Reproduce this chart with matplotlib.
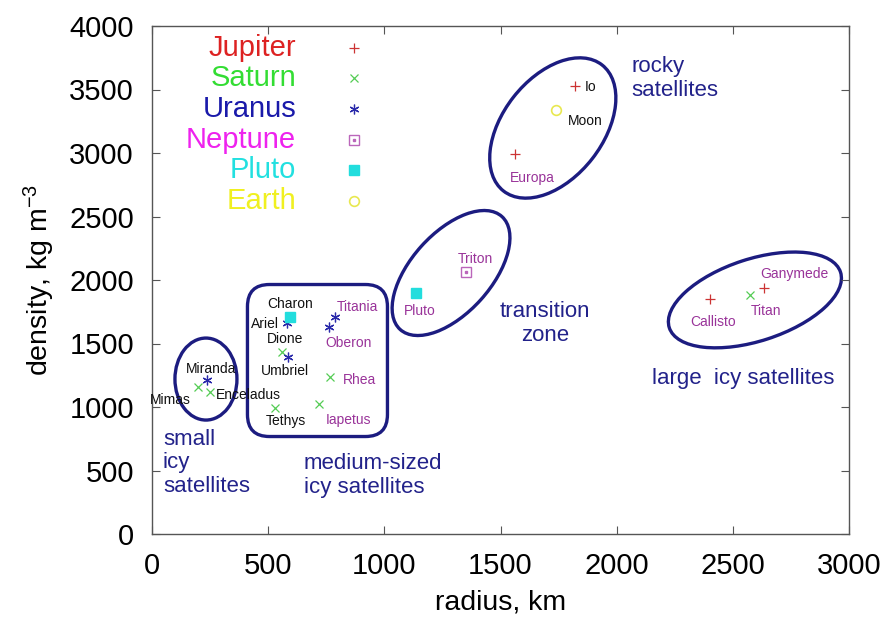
import matplotlib
matplotlib.use("Agg")
import matplotlib.pyplot as plt
from matplotlib.patches import Ellipse, FancyBboxPatch
from matplotlib.transforms import ScaledTranslation

plt.rcParams['font.family'] = ['Liberation Sans', 'DejaVu Sans']
plt.rcParams['mathtext.default'] = 'regular'

# radius (km), density (kg m^-3) per planet family
jupiter_names = ['Io', 'Europa', 'Ganymede', 'Callisto']
jupiter_r = [1821, 1561, 2634, 2403]
jupiter_rho = [3528, 2990, 1936, 1851]

saturn_names = ['Mimas', 'Enceladus', 'Tethys', 'Dione', 'Rhea', 'Iapetus', 'Titan']
saturn_r = [199, 249, 530, 560, 764, 718, 2575]
saturn_rho = [1160, 1120, 990, 1430, 1233, 1020, 1880]

uranus_names = ['Miranda', 'Ariel', 'Umbriel', 'Titania', 'Oberon']
uranus_r = [236, 579, 585, 789, 761]
uranus_rho = [1210, 1660, 1390, 1710, 1630]

neptune_names = ['Triton']
neptune_r = [1353]
neptune_rho = [2060]

pluto_names = ['Pluto', 'Charon']
pluto_r = [1137, 593]
pluto_rho = [1900, 1710]

earth_names = ['Moon']
earth_r = [1737]
earth_rho = [3340]

legend_names = ['Jupiter', 'Saturn', 'Uranus', 'Neptune', 'Pluto', 'Earth']

# label colour / offset (pixels) for each moon name
dark = '#111111'
purple = '#993399'
label_style = {
    'Io': (dark, 10, -1, 'left'),
    'Moon': (dark, 30, -11, 'center'),
    'Europa': (purple, 18, -24, 'center'),
    'Charon': (dark, 0, 13, 'center'),
    'Ariel': (dark, -22, -1, 'center'),
    'Dione': (dark, 3, 13, 'center'),
    'Umbriel': (dark, -3, -14, 'center'),
    'Miranda': (dark, 4, 11, 'center'),
    'Mimas': (dark, -28, -13, 'center'),
    'Enceladus': (dark, 38, -3, 'center'),
    'Tethys': (dark, 11, -13, 'center'),
    'Titania': (purple, 22, 10, 'center'),
    'Oberon': (purple, 20, -16, 'center'),
    'Rhea': (purple, 30, -3, 'center'),
    'Iapetus': (purple, 30, -16, 'center'),
    'Triton': (purple, 9, 13, 'center'),
    'Pluto': (purple, 4, -18, 'center'),
    'Ganymede': (purple, 30, 14, 'center'),
    'Callisto': (purple, 3, -23, 'center'),
    'Titan': (purple, 16, -16, 'center'),
}

fig = plt.figure(figsize=(8.84, 6.25), dpi=100)
ax = fig.add_axes([0.172, 0.1456, 0.7884, 0.8128])

series = [
    (jupiter_names, jupiter_r, jupiter_rho, dict(marker='+', color='#cc3333', ms=7, mew=0.9, ls='none')),
    (saturn_names, saturn_r, saturn_rho, dict(marker='x', color='#55cc55', ms=6, mew=0.9, ls='none')),
    (uranus_names, uranus_r, uranus_rho, dict(marker=(6, 2, 0), color='#2a2aaa', ms=7, mew=0.9, ls='none')),
    (neptune_names, neptune_r, neptune_rho, dict(marker='s', mfc='none', mec='#bb66bb', ms=7, mew=1.0, ls='none')),
    (pluto_names, pluto_r, pluto_rho, dict(marker='s', color='#22dddd', ms=7, ls='none')),
    (earth_names, earth_r, earth_rho, dict(marker='o', mfc='none', mec='#e8e850', ms=7, mew=1.2, ls='none')),
]

for names, r, rho, style in series:
    ax.plot(r, rho, **style)
    for n, x, y in zip(names, r, rho):
        c, dx, dy, ha = label_style[n]
        ax.annotate(n, (x, y), xytext=(dx, dy), textcoords='offset pixels',
                    ha=ha, va='center', fontsize=10, color=c)
# dot inside the Neptune square
ax.plot(neptune_r, neptune_rho, marker='s', color='#bb66bb', ms=1.5, ls='none')

# legend drawn by hand: text right-aligned, marker to the right
legend_colors = ['#dd2222', '#33dd33', '#1a1aaa', '#ee22ee', '#22e0e0', '#f0f020']
for i, (name, col) in enumerate(zip(legend_names, legend_colors)):
    y = 0.957 - i * 0.0602
    ax.text(0.2066, y, name, transform=ax.transAxes, ha='right', va='center',
            fontsize=21, color=col)
    ax.plot([0.29], [y], transform=ax.transAxes, **series[i][3])
    if name == 'Neptune':
        ax.plot([0.29], [y], transform=ax.transAxes, marker='s', color='#bb66bb', ms=1.5)

# grouping outlines, sized in pixels around a data centre
navy = '#1c1c80'
def px_ellipse(cx, cy, w, h, ang):
    e = Ellipse((0, 0), w, h, angle=ang, fill=False, ec=navy, lw=2.4,
                transform=ScaledTranslation(cx, cy, ax.transData))
    ax.add_patch(e)

px_ellipse(232, 1220, 62, 82, 0)
px_ellipse(1725, 3197, 160, 100, 52)
px_ellipse(1287, 2055, 152, 80, 48)
px_ellipse(2595, 1843, 180, 82, 18)

box = FancyBboxPatch((-70, -76), 140, 152, boxstyle='round,pad=0,rounding_size=22',
                     fill=False, ec=navy, lw=2.4,
                     transform=ScaledTranslation(712, 1366, ax.transData))
ax.add_patch(box)

ann = dict(color='#22228a', fontsize=16, linespacing=1.18)
ax.text(2065, 3765, 'rocky\nsatellites', ha='left', va='top', **ann)
ax.text(1691, 1660, 'transition\nzone', ha='center', va='center', multialignment='center', **ann)
ax.text(2151, 1228, 'large  icy satellites', ha='left', va='center', **ann)
ax.text(47, 830, 'small\nicy\nsatellites', ha='left', va='top', **ann)
ax.text(654, 640, 'medium-sized\nicy satellites', ha='left', va='top', **ann)

ax.set_xlim(0, 3000)
ax.set_ylim(0, 4000)
ax.set_xticks(range(0, 3001, 500))
ax.set_yticks(range(0, 4001, 500))
ax.tick_params(direction='in', top=True, right=True, length=6, width=0.8,
               color='#555555', labelsize=21, pad=13)
for s in ax.spines.values():
    s.set_color('#555555')
    s.set_linewidth(1.0)

ax.set_xlabel('radius, km', fontsize=20.5, labelpad=7)
ax.set_ylabel('density, kg m$^{-3}$', fontsize=20.5, labelpad=9)

fig.savefig('out.png', dpi=100)
